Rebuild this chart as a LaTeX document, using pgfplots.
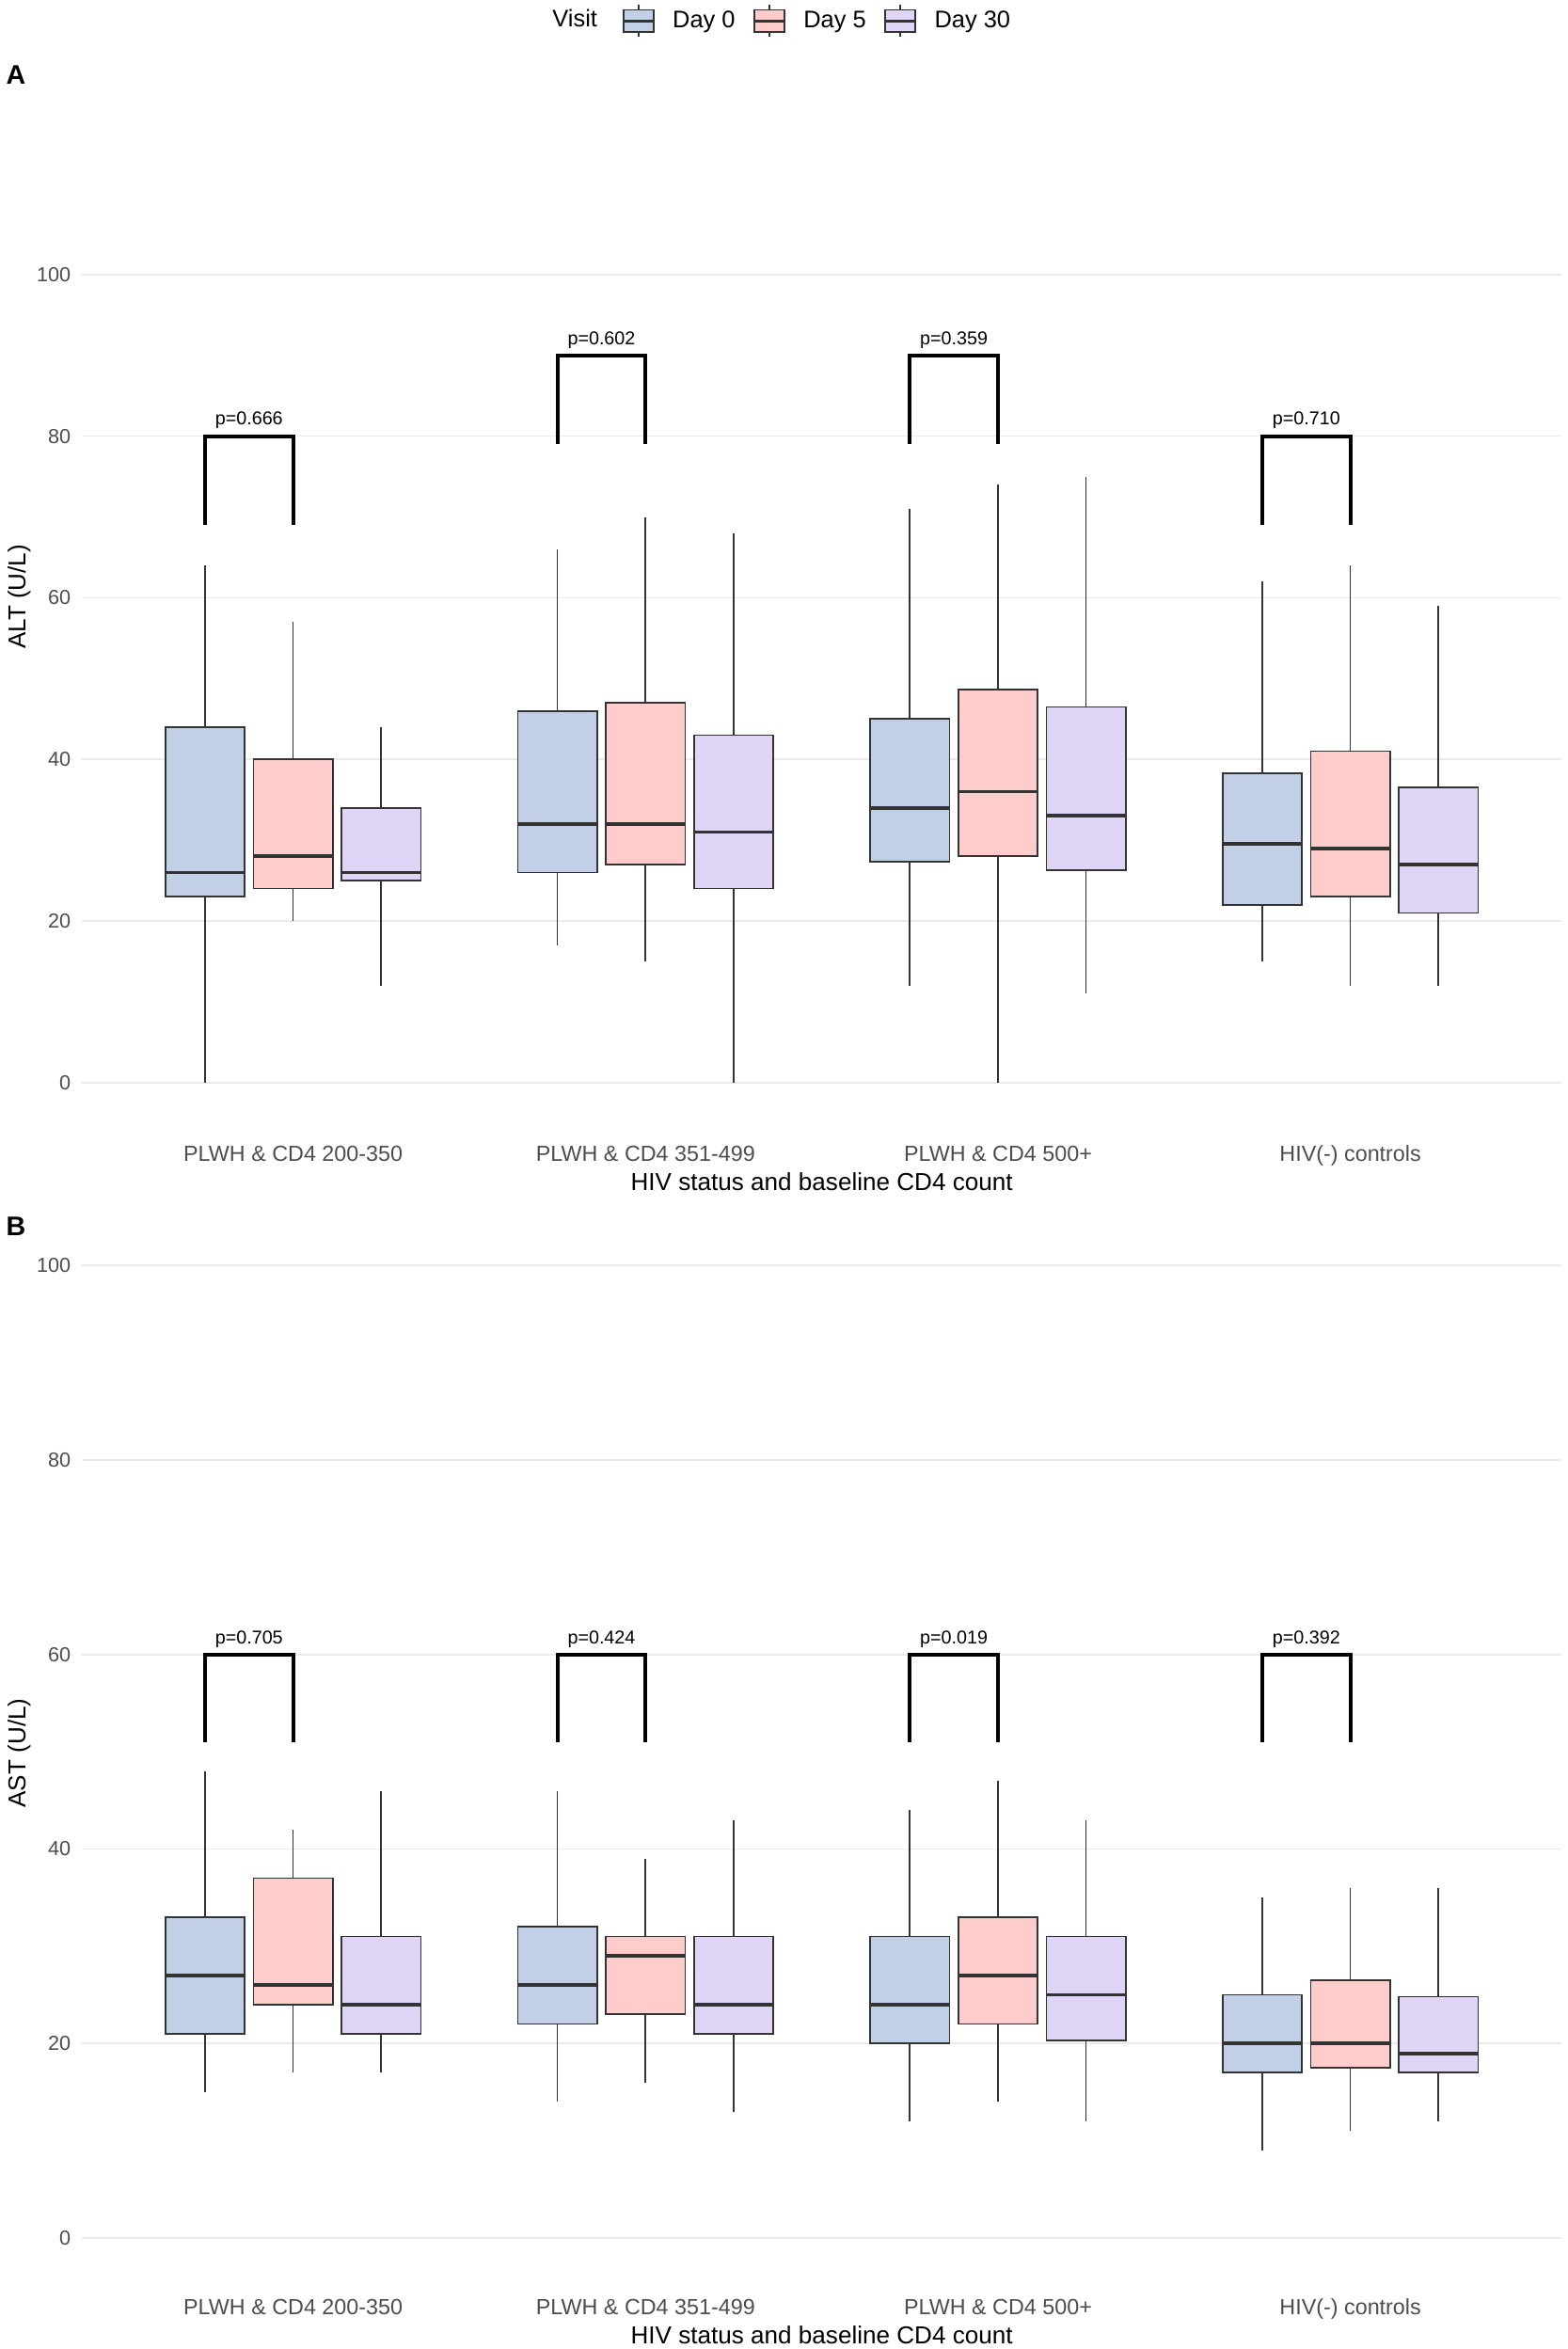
\documentclass[border=0pt]{standalone}
\usepackage{fontspec}
\setmainfont{Liberation Sans}
\usepackage{pgfplots}
\pgfplotsset{compat=1.18}
\usepgfplotslibrary{statistics}
\definecolor{dzero}{RGB}{193,208,230}
\definecolor{dfive}{RGB}{255,204,204}
\definecolor{dthirty}{RGB}{224,212,247}
\definecolor{boxline}{RGB}{51,51,51}
\definecolor{ticktext}{RGB}{77,77,77}
\definecolor{gridc}{RGB}{235,235,235}
\pgfplotsset{
  boxplot/draw direction=y,
  boxplot/every box/.style={line width=0.8pt},
  boxplot/every median/.style={line width=1.8pt},
  boxplot/every whisker/.style={line width=0.8pt},
  boxleg/.style={legend image code/.code={
      \draw[boxline, line width=0.7pt] (7.5pt,-8pt) -- (7.5pt,8pt);
      \draw[boxline, line width=0.8pt, fill=#1] (0pt,-5.5pt) rectangle (15pt,5.5pt);
      \draw[boxline, line width=1.3pt] (0pt,0pt) -- (15pt,0pt);
  }},
  bx/.style={forget plot, draw=boxline, fill=#1},
  brk/.style={forget plot, black, line width=1.9pt, line cap=butt, line join=miter},
  panel/.style={
    scale only axis, width=742.05pt, xmin=0.4, xmax=4.6,
    axis line style={draw=none}, major tick length=0pt, tick style={draw=none},
    ymajorgrids, major grid style={gridc, line width=0.8pt},
    xtick={1,2,3,4},
    xticklabels={PLWH \& CD4 200-350, PLWH \& CD4 351-499, PLWH \& CD4 500+, HIV(-) controls},
    ytick={0,20,40,60,80,100},
    /pgf/number format/assume math mode=true,
    xticklabel style={font=\fontsize{11}{13}\selectfont, text=ticktext, anchor=base},
    yticklabel style={font=\fontsize{10.2}{12}\selectfont, text=ticktext, anchor=east, inner sep=0pt, xshift=-5.3pt},
    xlabel={HIV status and baseline CD4 count},
    label style={font=\fontsize{12.3}{14}\selectfont},
    clip=false,
  },
}
\begin{document}
\begin{tikzpicture}
\path[use as bounding box] (0,0) rectangle (786pt,1177.5pt);
% ---------------- Panel A ----------------
\begin{axis}[panel, at={(40.95pt,614.6pt)}, anchor=south west,
  height=445.5pt, ymin=-5, ymax=105,
  xticklabel style={yshift=-19.3pt},
  xlabel style={at={(axis description cs:0.5,0)}, anchor=base, yshift=-34pt},
  ylabel={ALT (U/L)},
  ylabel style={at={(axis description cs:-0.0423,0.592)}, anchor=center, rotate=0},
  legend columns=-1,
  legend style={at={(0.4963,1.240)}, anchor=center, draw=none, fill=none,
    font=\fontsize{12}{14}\selectfont, column sep=9pt, inner sep=0pt, nodes={inner sep=0pt}},
]
\addlegendimage{boxleg=dzero}\addlegendentry{Day 0}
\addlegendimage{boxleg=dfive}\addlegendentry{Day 5}
\addlegendimage{boxleg=dthirty}\addlegendentry{Day 30}
% PLWH & CD4 200-350
\addplot[bx=dzero, boxplot prepared={draw position=0.75, box extend=0.225, whisker extend=0, lower whisker=0, lower quartile=23, median=26, upper quartile=44, upper whisker=64}] coordinates {};
\addplot[bx=dfive, boxplot prepared={draw position=1, box extend=0.225, whisker extend=0, lower whisker=20, lower quartile=24, median=28, upper quartile=40, upper whisker=57}] coordinates {};
\addplot[bx=dthirty, boxplot prepared={draw position=1.25, box extend=0.225, whisker extend=0, lower whisker=12, lower quartile=25, median=26, upper quartile=34, upper whisker=44}] coordinates {};
% PLWH & CD4 351-499
\addplot[bx=dzero, boxplot prepared={draw position=1.75, box extend=0.225, whisker extend=0, lower whisker=17, lower quartile=26, median=32, upper quartile=46, upper whisker=66}] coordinates {};
\addplot[bx=dfive, boxplot prepared={draw position=2, box extend=0.225, whisker extend=0, lower whisker=15, lower quartile=27, median=32, upper quartile=47, upper whisker=70}] coordinates {};
\addplot[bx=dthirty, boxplot prepared={draw position=2.25, box extend=0.225, whisker extend=0, lower whisker=0, lower quartile=24, median=31, upper quartile=43, upper whisker=68}] coordinates {};
% PLWH & CD4 500+
\addplot[bx=dzero, boxplot prepared={draw position=2.75, box extend=0.225, whisker extend=0, lower whisker=12, lower quartile=27.3, median=34, upper quartile=45, upper whisker=71}] coordinates {};
\addplot[bx=dfive, boxplot prepared={draw position=3, box extend=0.225, whisker extend=0, lower whisker=0, lower quartile=28, median=36, upper quartile=48.6, upper whisker=74}] coordinates {};
\addplot[bx=dthirty, boxplot prepared={draw position=3.25, box extend=0.225, whisker extend=0, lower whisker=11, lower quartile=26.3, median=33, upper quartile=46.5, upper whisker=75}] coordinates {};
% HIV(-) controls
\addplot[bx=dzero, boxplot prepared={draw position=3.75, box extend=0.225, whisker extend=0, lower whisker=15, lower quartile=22, median=29.5, upper quartile=38.3, upper whisker=62}] coordinates {};
\addplot[bx=dfive, boxplot prepared={draw position=4, box extend=0.225, whisker extend=0, lower whisker=12, lower quartile=23, median=29, upper quartile=41, upper whisker=64}] coordinates {};
\addplot[bx=dthirty, boxplot prepared={draw position=4.25, box extend=0.225, whisker extend=0, lower whisker=12, lower quartile=21, median=27, upper quartile=36.5, upper whisker=59}] coordinates {};
% brackets
\addplot[brk] coordinates {(0.75,69) (0.75,80) (1,80) (1,69)};
\addplot[brk] coordinates {(1.75,79) (1.75,90) (2,90) (2,79)};
\addplot[brk] coordinates {(2.75,79) (2.75,90) (3,90) (3,79)};
\addplot[brk] coordinates {(3.75,69) (3.75,80) (4,80) (4,69)};
\node[anchor=base, yshift=5.5pt, font=\fontsize{9.3}{11}\selectfont] at (axis cs:0.875,80) {p=0.666};
\node[anchor=base, yshift=5.5pt, font=\fontsize{9.3}{11}\selectfont] at (axis cs:1.875,90) {p=0.602};
\node[anchor=base, yshift=5.5pt, font=\fontsize{9.3}{11}\selectfont] at (axis cs:2.875,90) {p=0.359};
\node[anchor=base, yshift=5.5pt, font=\fontsize{9.3}{11}\selectfont] at (axis cs:3.875,80) {p=0.710};
\end{axis}
% ---------------- Panel B ----------------
\begin{axis}[panel, at={(40.95pt,35.4pt)}, anchor=south west,
  height=532.05pt, ymin=-4.154, ymax=105,
  xticklabel style={yshift=-18.3pt},
  xlabel style={at={(axis description cs:0.5,0)}, anchor=base, yshift=-33pt},
  ylabel={AST (U/L)},
  ylabel style={at={(axis description cs:-0.0423,0.495)}, anchor=center, rotate=0},
]
% PLWH & CD4 200-350
\addplot[bx=dzero, boxplot prepared={draw position=0.75, box extend=0.225, whisker extend=0, lower whisker=15, lower quartile=21, median=27, upper quartile=33, upper whisker=48}] coordinates {};
\addplot[bx=dfive, boxplot prepared={draw position=1, box extend=0.225, whisker extend=0, lower whisker=17, lower quartile=24, median=26, upper quartile=37, upper whisker=42}] coordinates {};
\addplot[bx=dthirty, boxplot prepared={draw position=1.25, box extend=0.225, whisker extend=0, lower whisker=17, lower quartile=21, median=24, upper quartile=31, upper whisker=46}] coordinates {};
% PLWH & CD4 351-499
\addplot[bx=dzero, boxplot prepared={draw position=1.75, box extend=0.225, whisker extend=0, lower whisker=14, lower quartile=22, median=26, upper quartile=32, upper whisker=46}] coordinates {};
\addplot[bx=dfive, boxplot prepared={draw position=2, box extend=0.225, whisker extend=0, lower whisker=16, lower quartile=23, median=29, upper quartile=31, upper whisker=39}] coordinates {};
\addplot[bx=dthirty, boxplot prepared={draw position=2.25, box extend=0.225, whisker extend=0, lower whisker=13, lower quartile=21, median=24, upper quartile=31, upper whisker=43}] coordinates {};
% PLWH & CD4 500+
\addplot[bx=dzero, boxplot prepared={draw position=2.75, box extend=0.225, whisker extend=0, lower whisker=12, lower quartile=20, median=24, upper quartile=31, upper whisker=44}] coordinates {};
\addplot[bx=dfive, boxplot prepared={draw position=3, box extend=0.225, whisker extend=0, lower whisker=14, lower quartile=22, median=27, upper quartile=33, upper whisker=47}] coordinates {};
\addplot[bx=dthirty, boxplot prepared={draw position=3.25, box extend=0.225, whisker extend=0, lower whisker=12, lower quartile=20.3, median=25, upper quartile=31, upper whisker=43}] coordinates {};
% HIV(-) controls
\addplot[bx=dzero, boxplot prepared={draw position=3.75, box extend=0.225, whisker extend=0, lower whisker=9, lower quartile=17, median=20, upper quartile=25, upper whisker=35}] coordinates {};
\addplot[bx=dfive, boxplot prepared={draw position=4, box extend=0.225, whisker extend=0, lower whisker=11, lower quartile=17.5, median=20, upper quartile=26.5, upper whisker=36}] coordinates {};
\addplot[bx=dthirty, boxplot prepared={draw position=4.25, box extend=0.225, whisker extend=0, lower whisker=12, lower quartile=17, median=19, upper quartile=24.8, upper whisker=36}] coordinates {};
% brackets
\addplot[brk] coordinates {(0.75,51) (0.75,60) (1,60) (1,51)};
\addplot[brk] coordinates {(1.75,51) (1.75,60) (2,60) (2,51)};
\addplot[brk] coordinates {(2.75,51) (2.75,60) (3,60) (3,51)};
\addplot[brk] coordinates {(3.75,51) (3.75,60) (4,60) (4,51)};
\node[anchor=base, yshift=5.5pt, font=\fontsize{9.3}{11}\selectfont] at (axis cs:0.875,60) {p=0.705};
\node[anchor=base, yshift=5.5pt, font=\fontsize{9.3}{11}\selectfont] at (axis cs:1.875,60) {p=0.424};
\node[anchor=base, yshift=5.5pt, font=\fontsize{9.3}{11}\selectfont] at (axis cs:2.875,60) {p=0.019};
\node[anchor=base, yshift=5.5pt, font=\fontsize{9.3}{11}\selectfont] at (axis cs:3.875,60) {p=0.392};
\end{axis}
% legend title and panel tags
\node[anchor=east, font=\fontsize{12}{14}\selectfont] at (303pt,1168.5pt) {Visit};
\node[font=\bfseries\fontsize{13.5}{15}\selectfont] at (8pt,1140pt) {A};
\node[font=\bfseries\fontsize{13.5}{15}\selectfont] at (8pt,562.5pt) {B};
\end{tikzpicture}
\end{document}
